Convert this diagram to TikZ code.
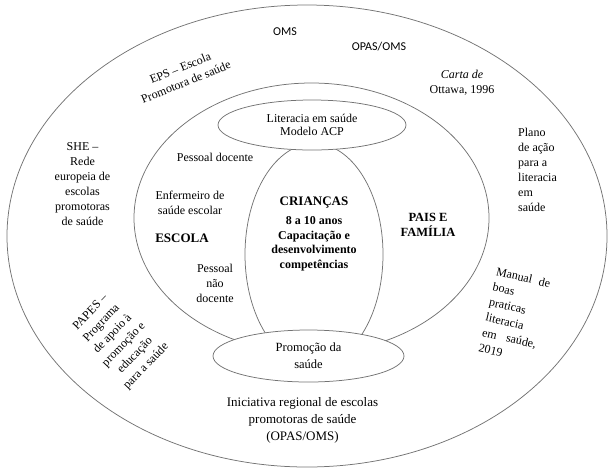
\documentclass[tikz,border=0pt]{standalone}
\usepackage{fontspec}
\setmainfont{Liberation Serif}
\newfontfamily\sansc{Carlito}
\usetikzlibrary{shapes.geometric}
\newcommand\myfs[2]{\fontsize{#1}{#2}\selectfont}
\begin{document}
\begin{tikzpicture}[x=1pt,y=-1pt,
  ring/.style={ellipse,draw=black!55,line width=0.75pt,inner sep=0pt},
  txt/.style={inner sep=0pt,align=center,font=\myfs{12}{15}},
  plain/.style={inner sep=0pt,font=\myfs{12}{15}},
  sanstxt/.style={inner sep=0pt,font=\sansc\myfs{12}{15}},
  bold/.style={inner sep=0pt,align=center,font=\bfseries\myfs{12.5}{15}}]
\useasboundingbox (0,0) rectangle (609,469);
% rings
\node[ring,minimum width=600pt,minimum height=462pt] (outer) at (307,236) {};
\node[ring,minimum width=355pt,minimum height=270pt] (middle) at (311.5,218) {};
\node[ring,minimum width=138pt,minimum height=222pt] (inner) at (314,254.4) {};
\node[ring,fill=white,minimum width=188pt,minimum height=50pt,align=center,font=\myfs{12}{13.5}] (lit) at (312,125) {Literacia em saúde\\Modelo ACP};
\node[ring,fill=white,minimum width=191pt,minimum height=52pt,align=center,font=\myfs{12.5}{16.7}] (promo) at (308.5,356) {Promoção da\\saúde};
% outer ring texts
\node[sanstxt] (oms) at (285,32) {OMS};
\node[sanstxt] (opas) at (379,47) {OPAS/OMS};
\node[txt,rotate=22] (eps) at (183,75) {EPS – Escola\\Promotora de saúde};
\node[txt] (carta) at (462,82.5) {\textit{Carta de}\\Ottawa, 1996};
\node[txt] (she) at (82.5,184.5) {SHE –\\Rede\\europeia de\\escolas\\promotoras\\de saúde};
\node[txt,align=left,anchor=west] (plano) at (518,169.5) {Plano\\de ação\\para a\\literacia\\em\\saúde};
\node[plain,rotate=-13,font=\myfs{12}{15.6}] (manual) at (514.6,315.5)
  {\parbox{55pt}{\raggedright\makebox[55pt][s]{Manual de}\\boas\\praticas\\literacia\\\makebox[55pt][s]{em saúde,}\\2019}};
\node[txt,rotate=46,font=\myfs{12}{15.5}] (papes) at (118.5,339.5) {PAPES –\\Programa\\de apoio à\\promoção e\\educação\\para a saúde};
\node[txt,font=\myfs{13}{17}] (inic) at (302.5,420) {Iniciativa regional de escolas\\promotoras de saúde\\(OPAS/OMS)};
% middle ring texts
\node[txt] (pdoc) at (215,157) {Pessoal docente};
\node[txt] (enf) at (190,202.5) {Enfermeiro de\\saúde escolar};
\node[bold,font=\bfseries\myfs{13}{15}] (escola) at (182,238) {ESCOLA};
\node[txt] (pnd) at (215,283) {Pessoal\\não\\docente};
\node[bold] (pais) at (428,224.5) {PAIS E\\FAMÍLIA};
% centre
\node[bold,font=\bfseries\myfs{12}{14.5}] (cri) at (314,234) {{\myfs{13}{14.5}CRIANÇAS}\\[4.5pt]8 a 10 anos\\Capacitação e\\desenvolvimento\\competências};
\end{tikzpicture}
\end{document}
